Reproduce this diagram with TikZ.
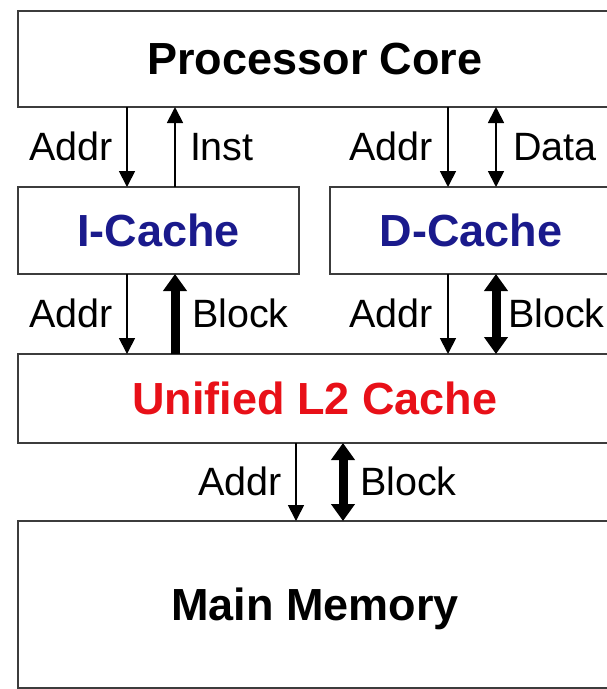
\documentclass[tikz,border=0pt]{standalone}
\usepackage{fontspec}
\setmainfont{Liberation Sans}
\usetikzlibrary{arrows.meta}
\definecolor{cacheblue}{RGB}{26,26,140}
\definecolor{l2red}{RGB}{232,16,24}
\definecolor{boxgray}{RGB}{60,60,60}
\begin{document}
\begin{tikzpicture}[x=1pt,y=-1pt,
  box/.style={draw=boxgray, line width=2.2pt, inner sep=0pt, outer sep=0pt,
    text depth=0pt, font=\fontsize{45}{49}\selectfont\bfseries},
  lbl/.style={inner sep=0pt, outer sep=0pt, font=\fontsize{39.5}{43}\selectfont},
  thinarrow/.style={line width=1.8pt, -{Triangle[width=16pt,length=16pt]}},
  thindouble/.style={line width=1.8pt, {Triangle[width=16pt,length=16pt]}-{Triangle[width=16pt,length=16pt]}},
  thickarrow/.style={line width=9pt, -{Triangle[width=23pt,length=17pt]}},
  thickdouble/.style={line width=9pt, {Triangle[width=23pt,length=17pt]}-{Triangle[width=23pt,length=17pt]}}
]
\useasboundingbox (0,0) rectangle (607,689);

% boxes
\node[box, minimum width=594pt, minimum height=96pt] (pc) at (315,59) {Processor Core};
\node[box, minimum width=281pt, minimum height=87pt, text=cacheblue] (ic) at (158.5,230.5) {I-Cache};
\node[box, minimum width=282pt, minimum height=87pt, text=cacheblue] (dc) at (471,230.5) {D-Cache};
\node[box, minimum width=594pt, minimum height=89pt, text=l2red] (l2) at (315,398.5) {Unified L2 Cache};
\node[box, minimum width=594pt, minimum height=167pt] (mm) at (315,604.5) {Main Memory};

% arrow x positions
\coordinate (xa) at (127,0);
\coordinate (xb) at (175,0);
\coordinate (xc) at (448,0);
\coordinate (xd) at (496,0);
\coordinate (xe) at (296,0);
\coordinate (xf) at (343,0);

% row 1
\draw[thinarrow] (pc.south -| xa) -- (ic.north -| xa);
\draw[thinarrow] (ic.north -| xb) -- (pc.south -| xb);
\draw[thinarrow] (pc.south -| xc) -- (dc.north -| xc);
\draw[thindouble] (pc.south -| xd) -- (dc.north -| xd);
\node[lbl, anchor=base east] (l1) at (113,160) {Addr};
\node[lbl, anchor=base west] (l2lbl) at (190,160) {Inst};
\node[lbl, anchor=base east] (l3) at (433,160) {Addr};
\node[lbl, anchor=base west] (l4) at (513,160) {Data};

% row 2
\draw[thinarrow] (ic.south -| xa) -- (l2.north -| xa);
\draw[thickarrow] (l2.north -| xb) -- (ic.south -| xb);
\draw[thinarrow] (dc.south -| xc) -- (l2.north -| xc);
\draw[thickdouble] (dc.south -| xd) -- (l2.north -| xd);
\node[lbl, anchor=base east] (l5) at (113,327) {Addr};
\node[lbl, anchor=base west] (l6) at (192,327) {Block};
\node[lbl, anchor=base east] (l7) at (433,327) {Addr};
\node[lbl, anchor=base west] (l8) at (508,327) {Block};

% row 3
\draw[thinarrow] (l2.south -| xe) -- (mm.north -| xe);
\draw[thickdouble] (l2.south -| xf) -- (mm.north -| xf);
\node[lbl, anchor=base east] (l9) at (282,495) {Addr};
\node[lbl, anchor=base west] (l10) at (360,495) {Block};
\end{tikzpicture}
\end{document}
